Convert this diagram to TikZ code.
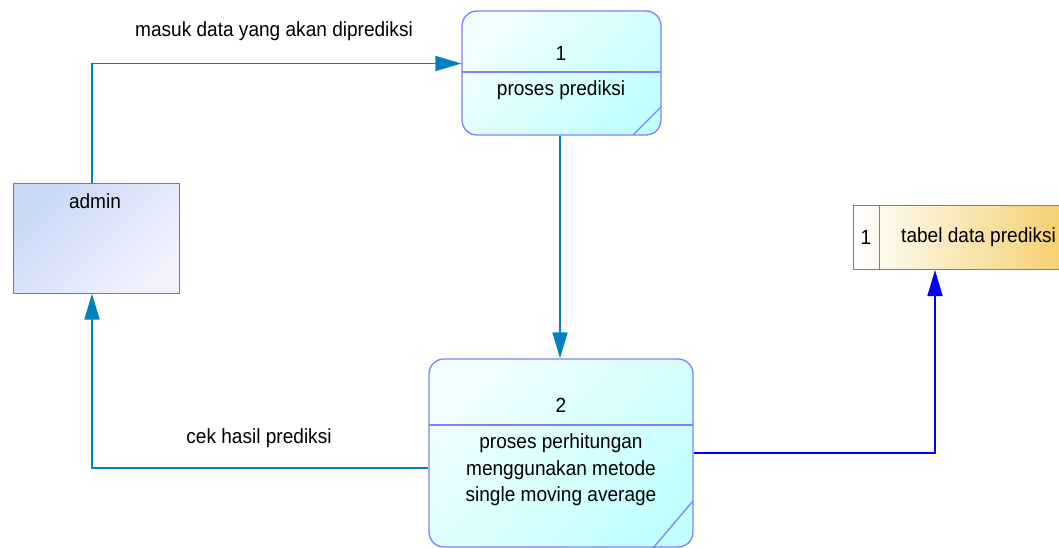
\documentclass[tikz,border=0pt]{standalone}
\usepackage{fontspec}
\setmainfont{Liberation Sans}[FakeStretch=0.93]
\usetikzlibrary{arrows.meta,calc}
\definecolor{procline}{HTML}{8080FF}
\definecolor{proclight}{HTML}{F2FFFF}
\definecolor{procdark}{HTML}{C2FFFF}
\definecolor{entline}{HTML}{3C8CC8}
\definecolor{entdark}{HTML}{C8D8F5}
\definecolor{entlight}{HTML}{F2F2FF}
\definecolor{storeline}{HTML}{8C8C28}
\definecolor{storedark}{HTML}{F5D070}
\definecolor{flowteal}{HTML}{0080C0}
\definecolor{flowblue}{HTML}{0000FF}
\tikzset{
  every node/.style={font=\fontsize{20.5}{26.5}\selectfont, inner sep=0pt},
  procbox/.style={draw=procline, line width=1.3pt, rounded corners=15pt,
    top color=proclight, bottom color=procdark, shading angle=45},
  entbox/.style={draw=entline, line width=1pt,
    top color=entdark, bottom color=entlight, shading angle=45},
  storebox/.style={draw=storeline, line width=1pt,
    left color=white, right color=storedark},
  procdiv/.style={draw=procline, line width=1.3pt},
  flow/.style={line width=1.6pt, -{Triangle[length=26pt,width=15pt]}},
  txt/.style={text=black, align=center}
}
\begin{document}
\begin{tikzpicture}[x=1pt,y=-1pt]
\useasboundingbox (0,0) rectangle (1059,548);
\clip (0,0) rectangle (1059,548);

% process 1
\node[procbox, minimum width=199pt, minimum height=124pt] (p1) at (561.5,73) {};
\draw[procdiv] (462,72) -- (661,72);
\draw[procdiv] (661,107) -- (633,135);
\node[txt] (p1num) at (561,53) {1};
\node[txt] (p1name) at (561,90) {proses prediksi};

% process 2
\node[procbox, minimum width=264pt, minimum height=188pt] (p2) at (561,453) {};
\draw[procdiv] (429,425) -- (693,425);
\draw[procdiv] (693,501) -- (653,548);
\node[txt] (p2num) at (561,405) {2};
\node[txt] (p2name) at (561,470) {proses perhitungan\\menggunakan metode\\single moving average};

% external entity
\node[entbox, minimum width=166pt, minimum height=109pt] (admin) at (96,238.5) {};
\node[txt] (adminname) at (95,201) {admin};

% data store
\node[storebox, minimum width=208pt, minimum height=64pt, anchor=north west] (store) at (853,205) {};
\draw[storeline, line width=1pt] (879,205) -- (879,269);
\node[txt] (storenum) at (866,237) {1};
\node[txt, anchor=west] (storename) at (901,237) {tabel data prediksi};

% data flows
\draw[flow, flowteal] ([xshift=-4pt]admin.north) |- ([yshift=9.5pt]p1.west);
\draw[flow, flowteal] ([xshift=-1.5pt]p1.south) -- ([xshift=-1.5pt]p1.south |- p2.north);
\draw[flow, flowteal] ([yshift=-15pt]p2.west) -| ([xshift=-4pt]admin.south);
\draw[flow, flowblue] (p2.east) -| ($(store.south west)+(82,0)$);

% flow labels
\node[txt] (lblin) at (274,31) {masuk data yang akan diprediksi};
\node[txt] (lblout) at (259,438) {cek hasil prediksi};
\end{tikzpicture}
\end{document}
